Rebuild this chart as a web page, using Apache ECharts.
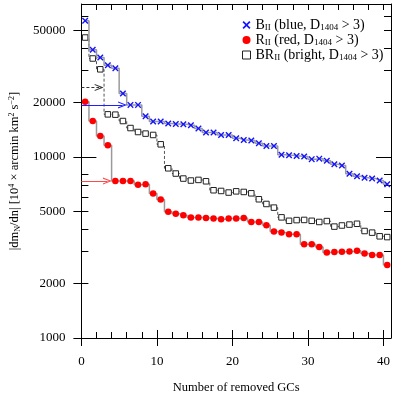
<!DOCTYPE html>
<html>
<head>
<meta charset="utf-8">
<script src="https://cdn.jsdelivr.net/npm/echarts@6/dist/echarts.min.js"></script>
<style>
html, body { margin: 0; padding: 0; background: #fff; }
#main { width: 399px; height: 399px; }
</style>
</head>
<body>
<div id="main"></div>
<script>
// number of removed GCs (points sit in the middle of each step)
var removed = [0.5, 1.5, 2.5, 3.5, 4.5, 5.5, 6.5, 7.5, 8.5, 9.5,
    10.5, 11.5, 12.5, 13.5, 14.5, 15.5, 16.5, 17.5, 18.5, 19.5,
    20.5, 21.5, 22.5, 23.5, 24.5, 25.5, 26.5, 27.5, 28.5, 29.5,
    30.5, 31.5, 32.5, 33.5, 34.5, 35.5, 36.5, 37.5, 38.5, 39.5, 40.5];

var blueII = [56600, 39100, 35400, 32100, 30900, 22400, 19400, 19400, 16800, 15700,
    15700, 15300, 15200, 15150, 14970, 14360, 13640, 13640, 13230, 13230,
    12690, 12410, 12320, 11900, 11500, 11500, 10300, 10220, 10130, 10050,
    9730, 9790, 9530, 9110, 8980, 8070, 7820, 7670, 7600, 7410, 7060];

var redII = [20200, 15800, 13060, 11600, 7360, 7360, 7360, 7020, 7080, 6290,
    5820, 4990, 4855, 4764, 4627, 4627, 4597, 4568, 4527, 4568,
    4568, 4603, 4374, 4374, 4194, 3870, 3822, 3740, 3740, 3294,
    3294, 3178, 2963, 2982, 2993, 3005, 3032, 2930, 2874, 2874, 2528];

var brightBR = [45700, 35000, 30500, 17200, 17130, 15800, 14450, 13740, 13460, 13230,
    11750, 8660, 8100, 7600, 7410, 7470, 7340, 6550, 6490, 6360,
    6460, 6410, 6300, 5840, 5500, 5250, 4640, 4440, 4480, 4490,
    4440, 4375, 4425, 4125, 4183, 4232, 4276, 3900, 3820, 3646, 3610];

// arrows: BR (dashed), B, R
var arrowLevel = [24200, 19400, 7360];
var arrowEndX = [2.35, 5.45, 3.45];

var xLabelTicks = [0, 10, 20, 30, 40];
var xMinorTicks = [0, 2, 4, 6, 8, 10, 12, 14, 16, 18, 20, 22, 24, 26, 28, 30, 32, 34, 36, 38, 40];
var yLabelTicks = [1000, 2000, 5000, 10000, 20000, 50000];
var yMinorTicks = [3000, 4000, 6000, 7000, 8000, 30000, 40000, 60000];
var yDecadeTicks = [10000];
var yMin = 1000, yMax = 70000;

var legendText = {
    'B': '{m|B}{s|II}{m| (blue, D}{s|1404}{m| > 3)}',
    'R': '{m|R}{s|II}{m| (red, D}{s|1404}{m| > 3)}',
    'BR': '{m|BR}{s|II}{m| (bright, D}{s|1404}{m| > 3)}'
};

var FONT = '"Liberation Serif", "DejaVu Serif", serif';
var X_PATH = 'path://M0,1.5L1.5,0L5,3.5L8.5,0L10,1.5L6.5,5L10,8.5L8.5,10L5,6.5L1.5,10L0,8.5L3.5,5Z';
var CHEVRON = 'path://M0,10L5,0L10,10L8.4,10L5,3.2L1.6,10Z';

function lg(v) { return Math.log10(v); }

function pairs(vals) {
    var out = [];
    for (var i = 0; i < vals.length; i++) {
        out.push([removed[i], lg(vals[i])]);
    }
    return out;
}

function logList(vals) {
    return vals.map(lg);
}

// extra axes that only carry ticks
function tickAxis(pos, values, len, inside, min, max, showLine) {
    return {
        type: 'value', position: pos, min: min, max: max,
        axisLine: { show: !!showLine, onZero: false, lineStyle: { color: '#000', width: 1 } },
        axisTick: { show: true, inside: inside, length: len, customValues: values, lineStyle: { color: '#000', width: 1 } },
        axisLabel: { show: false },
        splitLine: { show: false }
    };
}

function arrowMark(i, color, type, width) {
    return {
        silent: true,
        animation: false,
        symbol: ['none', CHEVRON],
        symbolSize: [7, 9],
        label: { show: false },
        emphasis: { disabled: true },
        lineStyle: { color: color, type: type, width: width },
        data: [[
            { coord: [0, lg(arrowLevel[i])] },
            { coord: [arrowEndX[i], lg(arrowLevel[i])] }
        ]]
    };
}

var myChart = echarts.init(document.getElementById('main'), null, { renderer: 'canvas' });

var yAll = logList(yLabelTicks.concat(yMinorTicks));

var option = {
    animation: false,
    backgroundColor: '#fff',
    grid: { left: 80, right: 8, top: 4, bottom: 60, containLabel: false },
    legend: {
        orient: 'vertical',
        left: 237,
        top: 13,
        itemWidth: 8,
        itemHeight: 8,
        itemGap: 1,
        selectedMode: false,
        data: [
            { name: 'B', icon: X_PATH, itemStyle: { color: '#1414ff' } },
            { name: 'R', icon: 'circle', itemStyle: { color: '#ff0000' } },
            { name: 'BR', icon: 'rect', itemStyle: { color: '#fff', borderColor: '#222', borderWidth: 1 } }
        ],
        formatter: function (name) {
            return legendText[name];
        },
        textStyle: {
            fontFamily: FONT, fontSize: 14, color: '#000',
            rich: {
                m: { fontFamily: FONT, fontSize: 14, lineHeight: 14, color: '#000' },
                s: { fontFamily: FONT, fontSize: 9, lineHeight: 9, verticalAlign: 'bottom', color: '#000' }
            }
        }
    },
    xAxis: [
        {
            type: 'value', position: 'bottom', min: 0, max: 41,
            axisLine: { show: true, onZero: false, lineStyle: { color: '#000', width: 1 } },
            axisTick: { show: true, inside: false, length: 8, customValues: xLabelTicks, lineStyle: { color: '#000', width: 1 } },
            axisLabel: { customValues: xLabelTicks, margin: 17, fontFamily: FONT, fontSize: 13, color: '#000' },
            splitLine: { show: false },
            name: 'Number of removed GCs',
            nameLocation: 'middle',
            nameGap: 43,
            nameTextStyle: { fontFamily: FONT, fontSize: 12.5, color: '#000' }
        },
        tickAxis('bottom', xMinorTicks, 6, true, 0, 41),
        tickAxis('bottom', xLabelTicks, 8, true, 0, 41),
        tickAxis('top', xMinorTicks, 6, true, 0, 41, true)
    ],
    yAxis: [
        {
            type: 'value', position: 'left', min: lg(yMin), max: lg(yMax),
            axisLine: { show: true, onZero: false, lineStyle: { color: '#000', width: 1 } },
            axisTick: { show: true, inside: false, length: 8, customValues: logList(yLabelTicks), lineStyle: { color: '#000', width: 1 } },
            axisLabel: {
                customValues: logList(yLabelTicks), margin: 16,
                fontFamily: FONT, fontSize: 13, color: '#000',
                formatter: function (v) {
                    return Math.round(Math.pow(10, v));
                }
            },
            splitLine: { show: false },
            name: '{m||dm}{s|N}{m|/dn| [10}{p|4}{m| × arcmin km}{p|2}{m| s}{p|−2}{m|]}',
            nameLocation: 'middle',
            nameRotate: 90,
            nameGap: 52,
            nameTextStyle: {
                fontFamily: FONT, fontSize: 12.5, color: '#000',
                rich: {
                    m: { fontFamily: FONT, fontSize: 12.5, lineHeight: 14, color: '#000' },
                    s: { fontFamily: FONT, fontSize: 8, lineHeight: 8, verticalAlign: 'bottom', color: '#000' },
                    p: { fontFamily: FONT, fontSize: 8, lineHeight: 8, verticalAlign: 'top', color: '#000' }
                }
            }
        },
        tickAxis('left', yAll, 7, true, lg(yMin), lg(yMax)),
        tickAxis('left', logList(yDecadeTicks), 15, true, lg(yMin), lg(yMax)),
        tickAxis('right', yAll, 7, true, lg(yMin), lg(yMax), true),
        tickAxis('right', logList(yDecadeTicks), 15, true, lg(yMin), lg(yMax))
    ],
    series: [
        {
            name: 'B', type: 'line', step: 'middle', z: 4,
            data: pairs(blueII),
            symbol: X_PATH, symbolSize: 6.5, showAllSymbol: true,
            itemStyle: { color: '#1414ff' },
            lineStyle: { color: '#9a9a9a', width: 1.5 },
            markLine: arrowMark(1, '#1f1fff', 'solid', 1.2)
        },
        {
            name: 'R', type: 'line', step: 'middle', z: 3,
            data: pairs(redII),
            symbol: 'circle', symbolSize: 6.5, showAllSymbol: true,
            itemStyle: { color: '#ff0000' },
            lineStyle: { color: '#9a9a9a', width: 1.5 },
            markLine: arrowMark(2, '#ff4a4a', 'solid', 1)
        },
        {
            name: 'BR', type: 'line', step: 'middle', z: 2,
            data: pairs(brightBR),
            symbol: 'rect', symbolSize: 5.5, showAllSymbol: true,
            itemStyle: { color: '#fff', borderColor: '#222', borderWidth: 1 },
            lineStyle: { color: '#555', width: 1, type: [3, 2] },
            markLine: arrowMark(0, '#333', [3, 2], 1)
        }
    ]
};

myChart.setOption(option);
</script>
</body>
</html>
